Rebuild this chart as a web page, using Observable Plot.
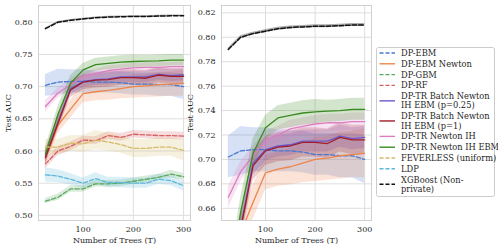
<!DOCTYPE html>
<html>
<head>
<meta charset="utf-8">
<script src="https://cdn.jsdelivr.net/npm/d3@7"></script>
<script src="https://cdn.jsdelivr.net/npm/@observablehq/plot@0.6"></script>
<style>
  html, body { margin: 0; padding: 0; background: #fff; }
  #wrap { position: relative; width: 498px; height: 244px; overflow: hidden; font-family: "DejaVu Serif", serif; }
  #left, #right, #legend { position: absolute; top: 0; }
  #left { left: 0; }
  #right { left: 180px; }
  #legend { left: 0; }
</style>
</head>
<body>
<div id="wrap">
  <div id="left"></div>
  <div id="right"></div>
  <svg id="legend" width="498" height="244" style="pointer-events:none"></svg>
</div>
<script>
// Number of trees
const trees = [25, 50, 75, 100, 125, 150, 175, 200, 225, 250, 275, 300];

// Series names (legend order)
const seriesNames = [
  "DP-EBM",
  "DP-EBM Newton",
  "DP-GBM",
  "DP-RF",
  "DP-TR Batch Newton IH EBM (p=0.25)",
  "DP-TR Batch Newton IH EBM (p=1)",
  "DP-TR Newton IH",
  "DP-TR Newton IH EBM",
  "FEVERLESS (uniform)",
  "LDP",
  "XGBoost (Non-private)"
];
const legendLines = [
  ["DP-EBM"],
  ["DP-EBM Newton"],
  ["DP-GBM"],
  ["DP-RF"],
  ["DP-TR Batch Newton", "IH EBM (p=0.25)"],
  ["DP-TR Batch Newton", "IH EBM (p=1)"],
  ["DP-TR Newton IH"],
  ["DP-TR Newton IH EBM"],
  ["FEVERLESS (uniform)"],
  ["LDP"],
  ["XGBoost (Non-", "private)"]
];
const seriesColors = ["#4878d0", "#ee854a", "#59a85f", "#d65f5f", "#6a5acd", "#a01c28", "#dc7ec0", "#3a8a22", "#d5bb67", "#5bb8d8", "#111111"];
const seriesDashed = [true, false, true, true, false, false, false, false, true, true, true];

// Mean test AUC per series
const aucDpEbm       = [0.702, 0.707, 0.708, 0.708, 0.707, 0.707, 0.706, 0.704, 0.704, 0.703, 0.703, 0.700];
const aucDpEbmNewton = [0.588, 0.640, 0.665, 0.689, 0.692, 0.694, 0.697, 0.700, 0.701, 0.703, 0.704, 0.705];
const aucDpGbm       = [0.522, 0.528, 0.541, 0.541, 0.549, 0.549, 0.550, 0.553, 0.556, 0.559, 0.564, 0.560];
const aucDpRf        = [0.580, 0.600, 0.607, 0.617, 0.616, 0.624, 0.621, 0.626, 0.625, 0.624, 0.624, 0.623];
const aucBatch025    = [0.590, 0.645, 0.697, 0.708, 0.711, 0.712, 0.715, 0.715, 0.715, 0.719, 0.717, 0.718];
const aucBatch1      = [0.590, 0.643, 0.695, 0.707, 0.710, 0.711, 0.714, 0.714, 0.713, 0.718, 0.716, 0.716];
const aucNewtonIH    = [0.669, 0.690, 0.703, 0.716, 0.720, 0.725, 0.727, 0.729, 0.730, 0.730, 0.731, 0.731];
const aucNewtonIHEbm = [0.595, 0.657, 0.705, 0.726, 0.734, 0.736, 0.738, 0.739, 0.7395, 0.740, 0.741, 0.741];
const aucFeverless   = [0.606, 0.606, 0.612, 0.611, 0.617, 0.614, 0.610, 0.604, 0.604, 0.606, 0.606, 0.601];
const aucLdp         = [0.563, 0.561, 0.556, 0.550, 0.557, 0.551, 0.551, 0.550, 0.550, 0.556, 0.554, 0.546];
const aucXgb         = [0.790, 0.800, 0.803, 0.805, 0.807, 0.808, 0.8085, 0.809, 0.809, 0.8095, 0.810, 0.810];

// Half-width of the shaded band per series
const errDpEbm       = [0.017, 0.020, 0.018, 0.018, 0.017, 0.017, 0.017, 0.017, 0.017, 0.018, 0.018, 0.020];
const errDpEbmNewton = [0.012, 0.013, 0.014, 0.014, 0.014, 0.015, 0.016, 0.018, 0.018, 0.019, 0.019, 0.020];
const errDpGbm       = [0.004, 0.005, 0.005, 0.005, 0.005, 0.005, 0.005, 0.005, 0.005, 0.005, 0.006, 0.005];
const errDpRf        = [0.008, 0.007, 0.007, 0.006, 0.006, 0.006, 0.006, 0.006, 0.006, 0.006, 0.006, 0.006];
const errBatch025    = [0.010, 0.010, 0.010, 0.009, 0.009, 0.009, 0.009, 0.009, 0.009, 0.009, 0.009, 0.009];
const errBatch1      = [0.010, 0.011, 0.012, 0.012, 0.012, 0.012, 0.012, 0.012, 0.012, 0.012, 0.012, 0.012];
const errNewtonIH    = [0.009, 0.008, 0.008, 0.007, 0.007, 0.007, 0.007, 0.007, 0.007, 0.007, 0.007, 0.007];
const errNewtonIHEbm = [0.010, 0.012, 0.012, 0.010, 0.010, 0.010, 0.010, 0.010, 0.009, 0.009, 0.009, 0.009];
const errFeverless   = [0.012, 0.012, 0.012, 0.013, 0.015, 0.014, 0.013, 0.014, 0.014, 0.014, 0.014, 0.016];
const errLdp         = [0.011, 0.010, 0.009, 0.008, 0.009, 0.008, 0.008, 0.008, 0.008, 0.008, 0.008, 0.008];
const errXgb         = [0.0012, 0.0012, 0.0012, 0.0012, 0.0012, 0.0012, 0.0012, 0.0012, 0.0012, 0.0012, 0.0012, 0.0012];

const means = [aucDpEbm, aucDpEbmNewton, aucDpGbm, aucDpRf, aucBatch025, aucBatch1, aucNewtonIH, aucNewtonIHEbm, aucFeverless, aucLdp, aucXgb];
const errs  = [errDpEbm, errDpEbmNewton, errDpGbm, errDpRf, errBatch025, errBatch1, errNewtonIH, errNewtonIHEbm, errFeverless, errLdp, errXgb];

const leftTicks = [0.50, 0.55, 0.60, 0.65, 0.70, 0.75, 0.80];
const rightTicks = [0.66, 0.68, 0.70, 0.72, 0.74, 0.76, 0.78, 0.80, 0.82];
const xTicks = [100, 200, 300];

const tables = seriesNames.map((name, i) => trees.map((t, j) => ({
  series: name, x: t, y: means[i][j], lo: means[i][j] - errs[i][j], hi: means[i][j] + errs[i][j]
})));

function seriesMarks(clip) {
  const marks = [];
  tables.forEach((rows, i) => {
    marks.push(Plot.areaY(rows, {x: "x", y1: "lo", y2: "hi", fill: seriesColors[i], fillOpacity: i === 10 ? 0.35 : 0.22, clip}));
  });
  tables.forEach((rows, i) => {
    marks.push(Plot.lineY(rows, {
      x: "x", y: "y", stroke: seriesColors[i],
      strokeWidth: i === 10 ? 1.5 : 1.3,
      strokeDasharray: seriesDashed[i] ? "4.5,2" : null,
      clip
    }));
  });
  return marks;
}

function makePlot(opts) {
  return Plot.plot({
    width: opts.width, height: 244,
    marginLeft: opts.marginLeft, marginRight: opts.marginRight, marginTop: 5, marginBottom: 24,
    style: {fontFamily: "DejaVu Serif, serif", fontSize: "8px", color: "#262626", background: "transparent", overflow: "visible"},
    x: {domain: [11.25, 313.75]},
    y: {domain: opts.yDomain},
    marks: [
      Plot.gridX(xTicks, {stroke: "#dedede", strokeOpacity: 1, strokeWidth: 1}),
      Plot.gridY(opts.yTicks, {stroke: "#dedede", strokeOpacity: 1, strokeWidth: 1}),
      ...seriesMarks(opts.clip),
      Plot.frame({stroke: "#d0d0d0", strokeWidth: 1}),
      Plot.axisX(xTicks, {tickSize: 0, tickPadding: 6, label: "Number of Trees (T)", labelAnchor: "center", labelArrow: "none", labelOffset: 22}),
      Plot.axisY(opts.yTicks, {tickSize: 0, tickPadding: 6, tickFormat: ".2f", label: "Test AUC", labelAnchor: "center", labelArrow: "none", labelOffset: opts.yLabelOffset})
    ]
  });
}

document.getElementById("left").append(makePlot({
  width: 195, marginLeft: 38, marginRight: 5, yDomain: [0.492, 0.826], yTicks: leftTicks, yLabelOffset: 33, clip: false
}));
document.getElementById("right").append(makePlot({
  width: 196, marginLeft: 41, marginRight: 5, yDomain: [0.650, 0.826], yTicks: rightTicks, yLabelOffset: 34, clip: true
}));

// Legend
const lg = d3.select("#legend");
lg.append("rect").attr("x", 376.5).attr("y", 47.5).attr("width", 118).attr("height", 149)
  .attr("rx", 2).attr("fill", "#fff").attr("fill-opacity", 0.9).attr("stroke", "#cccccc");
let yPos = 53;
legendLines.forEach((lines, i) => {
  const lineGap = 9.3;
  const center = yPos + (lines.length - 1) * lineGap / 2;
  lg.append("line").attr("x1", 379.5).attr("x2", 395).attr("y1", center).attr("y2", center)
    .attr("stroke", seriesColors[i]).attr("stroke-width", i === 10 ? 1.5 : 1.4)
    .attr("stroke-dasharray", seriesDashed[i] ? "4,2" : null);
  lines.forEach((txt, k) => {
    lg.append("text").attr("x", 401).attr("y", yPos + k * lineGap).attr("dy", "0.35em")
      .attr("font-family", "DejaVu Serif, serif").attr("font-size", "8.3px").attr("fill", "#262626").text(txt);
  });
  yPos += (lines.length - 1) * lineGap + 10.8;
});
</script>
</body>
</html>
